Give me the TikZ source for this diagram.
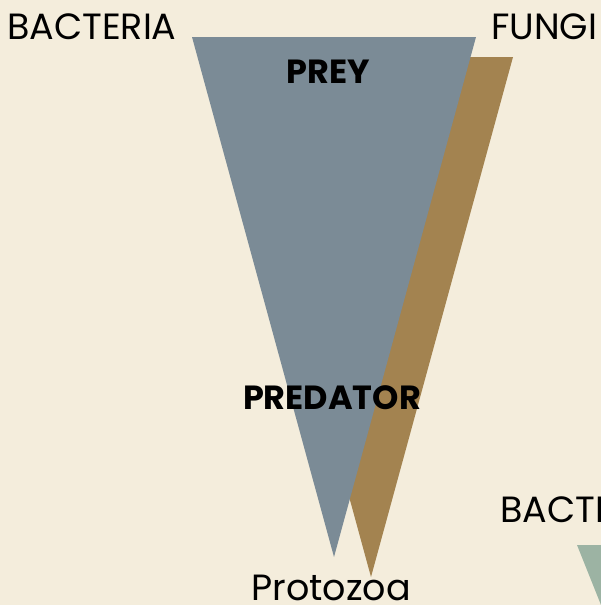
\documentclass[tikz,border=0pt]{standalone}
\usepackage{fontspec}
\setmainfont{Poppins}
\definecolor{bgc}{RGB}{244,237,220}
\definecolor{greyc}{RGB}{123,139,150}
\definecolor{brownc}{RGB}{163,131,80}
\definecolor{greenc}{RGB}{156,179,163}
\tikzset{
  lbl/.style={inner sep=0pt, font=\fontsize{36.5}{42}\selectfont, text=black},
  blbl/.style={inner sep=0pt, font=\fontsize{33.5}{40}\selectfont\bfseries, text=black}
}
\begin{document}
\begin{tikzpicture}[x=1pt,y=-1pt]
\useasboundingbox (0,0) rectangle (601,605);
\fill[bgc] (0,0) rectangle (601,605);
\begin{scope}
\clip (0,0) rectangle (601,605);
\coordinate (g1) at (192,37);
\coordinate (g2) at (476,37);
\coordinate (g3) at (334,557);
\coordinate (b1) at (229,57);
\coordinate (b2) at (513,57);
\coordinate (b3) at (371,577);
\coordinate (t1) at (577,545);
\coordinate (t2) at (700,545);
\coordinate (t3) at (625,665);
\fill[brownc] (b1) -- (b2) -- (b3) -- cycle;
\fill[greyc] (g1) -- (g2) -- (g3) -- cycle;
\fill[greenc] (t1) -- (t2) -- (t3) -- cycle;
\node[lbl, anchor=base west] (bact) at (7,39) {BACTERIA};
\node[lbl, anchor=base west] (fungi) at (491,39) {FUNGI};
\node[lbl, anchor=base west] (bact2) at (500,522) {BACTERIA};
\node[lbl, anchor=base] (proto) at (331,600) {Protozoa};
\node[blbl, anchor=base] (prey) at (328,83) {PREY};
\node[blbl, anchor=base] (pred) at (332,409) {PREDATOR};
\end{scope}
\end{tikzpicture}
\end{document}
